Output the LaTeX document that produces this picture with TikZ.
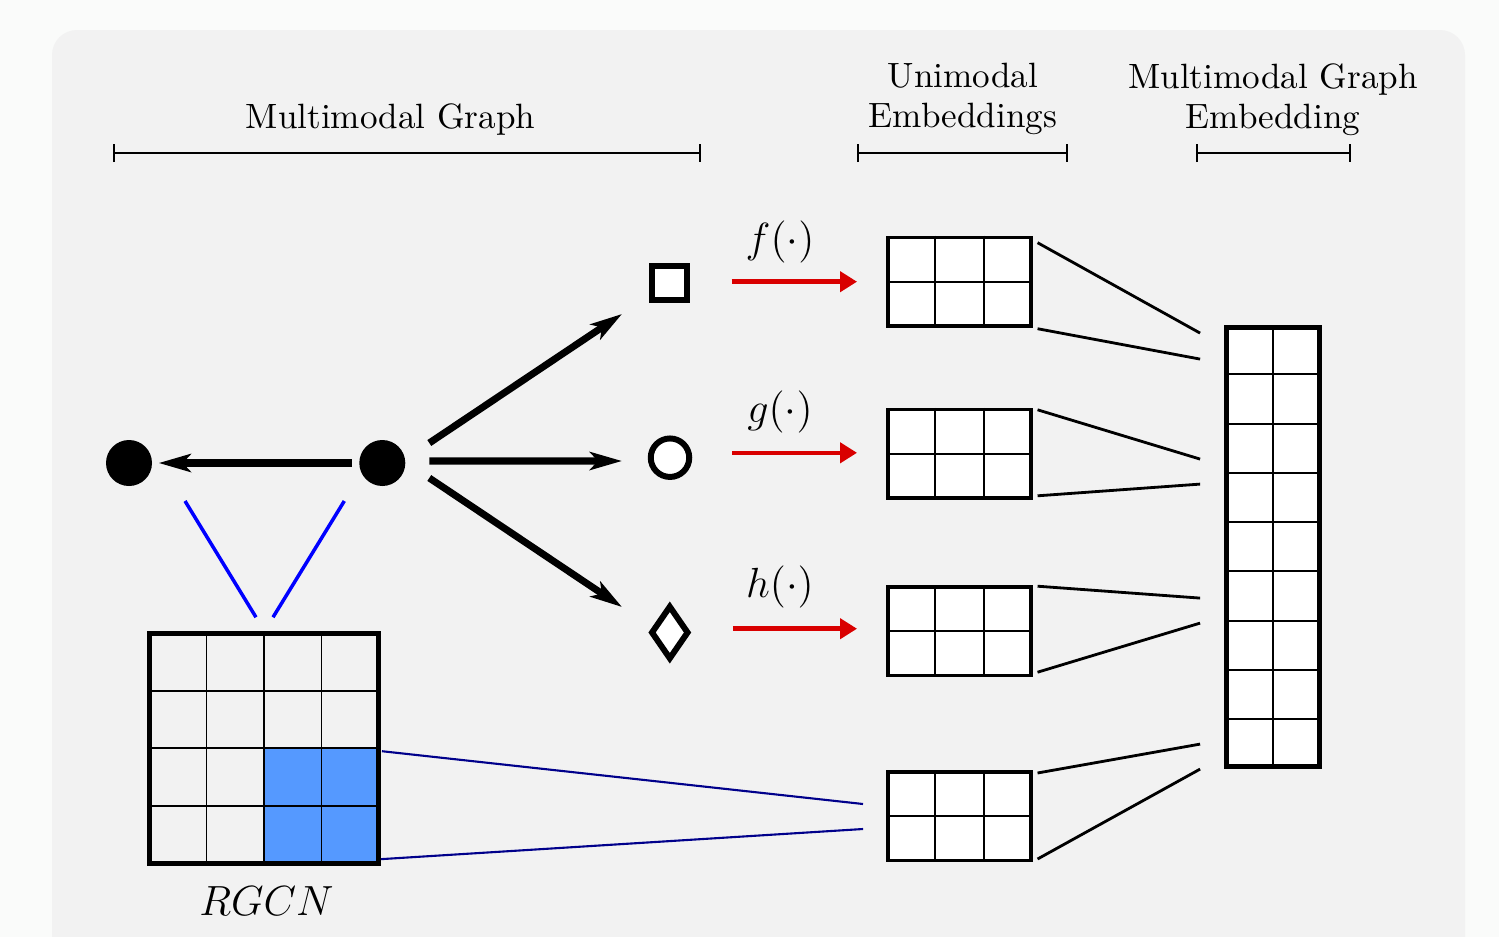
\documentclass[tikz,border=0pt]{standalone}
\usepackage{amsmath}
\usepackage{xcolor}
\usepackage{tikz}
\usetikzlibrary{calc,positioning,arrows.meta,shapes.geometric}

\definecolor{panelgrey}{RGB}{242,242,242}
\definecolor{pagewhite}{RGB}{250,251,250}
\definecolor{cellblue}{RGB}{85,153,255}
\definecolor{maparrow}{RGB}{217,0,0}
\definecolor{linknavy}{RGB}{0,0,139}

\tikzset{
  entity/.style={circle,fill=black,inner sep=0pt,minimum size=4.6mm},
  relarrow/.style={line width=2pt,-{Stealth[length=3.2mm,width=1.8mm,inset=0.8mm]}},
  modal/.style={draw,line width=1.7pt,fill=white,inner sep=0pt},
  fmap/.style={maparrow,line width=1.3pt,-{Triangle[length=1.7mm,width=2mm]}},
  maplabel/.style={anchor=base,font=\large},
  embbox/.style={draw,line width=1pt,fill=white,inner sep=0pt,minimum width=14.3mm,minimum height=8.85mm},
  gridline/.style={line width=0.55pt},
  fanline/.style={line width=0.8pt},
  spanbar/.style={line width=0.6pt,{Bar[width=1.8mm]}-{Bar[width=1.8mm]}},
  head/.style={anchor=north,inner sep=0pt,align=center,font=\fontsize{10}{11.4}\selectfont},
}

\begin{document}
\begin{tikzpicture}[x=0.1mm,y=-0.1mm]
\newcommand{\cellgrid}[3]{%
  \pgfmathtruncatemacro{\ncol}{#2-1}%
  \pgfmathtruncatemacro{\nrow}{#3-1}%
  \foreach \i in {1,...,\ncol}
    \draw[gridline] ($(#1.north west)!\i/#2!(#1.north east)$) -- ($(#1.south west)!\i/#2!(#1.south east)$);
  \foreach \j in {1,...,\nrow}
    \draw[gridline] ($(#1.north west)!\j/#3!(#1.south west)$) -- ($(#1.north east)!\j/#3!(#1.south east)$);
}
\newcommand{\fanin}[5]{% box, offsets of its top and bottom line
  \draw[fanline] ($(#1.north east)+(5,#2)$) -- ($(joint.north west)+(-24,#3)$);
  \draw[fanline] ($(#1.south east)+(5,#4)$) -- ($(joint.north west)+(-24,#5)$);
}
\useasboundingbox (0,0) rectangle (1499,937);
\clip (0,0) rectangle (1499,937);
\fill[pagewhite] (0,0) rectangle (1499,937);
\fill[panelgrey,rounded corners=2.5mm] (52,30) rectangle (1465,1000);

% headings
\node[anchor=base] (hgraph) at (390.5,128) {Multimodal Graph};
\node[head] (huni) at (963,62.6) {Unimodal\\Embeddings};
\node[head] (hjoint) at (1273,62.6) {Multimodal Graph\\Embedding};
\draw[spanbar] (113,153) -- (701,153);
\draw[spanbar] (857,153) -- (1068,153);
\draw[spanbar] (1196,153) -- (1351,153);

% graph
\node[entity] (v1) at (129,463) {};
\node[entity] (v2) at (382.3,463) {};
\node[modal,rectangle,minimum size=3.45mm] (sq) at (669.5,283) {};
\node[modal,circle,minimum size=3.85mm] (ci) at (670,457.7) {};
\node[modal,diamond,minimum width=3.8mm,minimum height=5.4mm] (di) at (669.8,632.5) {};
\draw[relarrow,shorten <=0.7mm,shorten >=0.6mm] (v2) -- (v1);
\draw[relarrow] ([shift={(47,-20)}]v2.center) -- ([shift={(-47.5,31)}]sq.center);
\draw[relarrow] ([shift={(47,-2)}]v2.center) -- ([shift={(-48,3.3)}]ci.center);
\draw[relarrow] ([shift={(47,15)}]v2.center) -- ([shift={(-47.8,-25.5)}]di.center);

% unimodal embeddings
\node[embbox] (u1) at (959.3,281.7) {};
\node[embbox] (u2) at (959.3,453.8) {};
\node[embbox] (u3) at (959.3,631.2) {};
\node[embbox] (u4) at (959.3,816) {};
\foreach \b in {u1,u2,u3,u4} {\cellgrid{\b}{3}{2}}
\draw[fmap] ($(sq.east |- u1.west)+(42,0)$) -- ($(u1.west)+(-29,0)$);
\draw[fmap] ($(ci.east |- u2.west)+(40,-1)$) -- ($(u2.west)+(-29,-1)$);
\draw[fmap] ($(di.east |- u3.west)+(41,-2.5)$) -- ($(u3.west)+(-29,-2.5)$);
\node[maplabel] (flab) at (780,252) {$f(\cdot)$};
\node[maplabel] (glab) at (780,422.5) {$g(\cdot)$};
\node[maplabel] (hlab) at (780,597.5) {$h(\cdot)$};

% joint embedding
\node[embbox,line width=1.4pt,minimum width=9.25mm,minimum height=43.85mm] (joint) at (1272.8,546.8) {};
\cellgrid{joint}{2}{9}
\fanin{u1}{7}{8}{1}{34}
\fanin{u2}{2}{134}{-4}{159}
\fanin{u3}{1}{273}{-5}{298}
\fanin{u4}{3}{419}{-3}{444}

% rgcn
\node[inner sep=0pt,minimum size=22.85mm] (rgcn) at (264,748.2) {};
\fill[cellblue,rounded corners=0.5pt] (rgcn.center) rectangle (rgcn.south east);
\cellgrid{rgcn}{4}{4}
\draw[line width=1.4pt] (rgcn.north west) rectangle (rgcn.south east);
\node[below=1.1mm of rgcn,xshift=0.25mm,font=\large] (rgcnlab) {$RGCN$};
\draw[blue,line width=1pt] ([shift={(56,38)}]v1.center) -- ([shift={(-8,-16)}]rgcn.north);
\draw[blue,line width=1pt] ([shift={(-38,38)}]v2.center) -- ([shift={(9,-16)}]rgcn.north);
\draw[linknavy,line width=0.6pt] ($(rgcn.east)+(3,3)$) -- ($(u4.west)+(-23,-12)$);
\draw[linknavy,line width=0.6pt] ($(rgcn.south east)+(2,-4)$) -- ($(u4.west)+(-23,13)$);
\end{tikzpicture}
\end{document}
